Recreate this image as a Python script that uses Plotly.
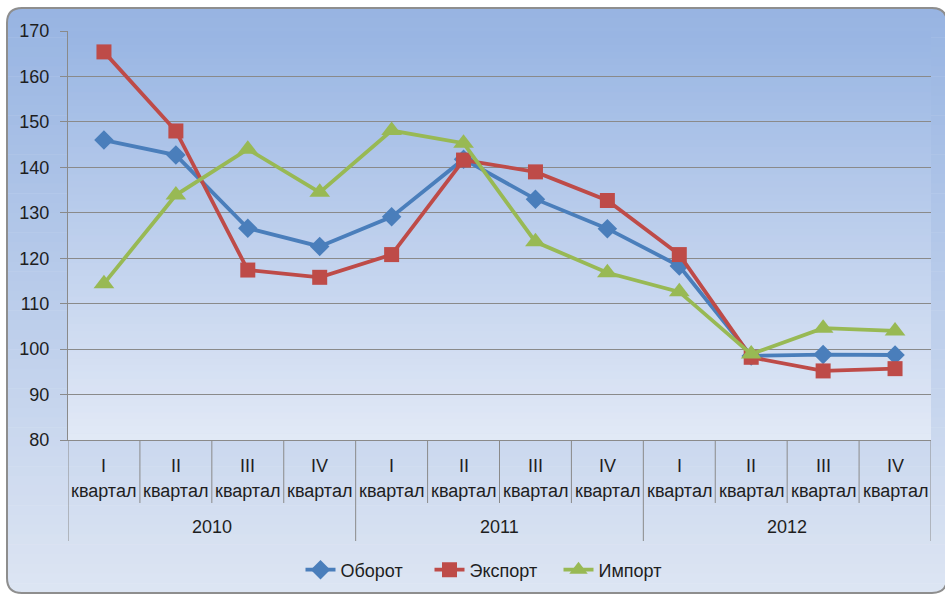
import plotly.graph_objects as go

# ---- data ----
years = ["2010", "2011", "2012"]
quarters = ["I", "II", "III", "IV"]
quarter_word = "квартал"
oborot = [146.0, 142.7, 126.6, 122.6, 129.1, 141.8, 133.0, 126.5, 118.3, 98.5, 98.8, 98.7]
eksport = [165.4, 148.0, 117.4, 115.8, 120.8, 141.6, 139.0, 132.7, 120.8, 98.2, 95.2, 95.7]
import_ = [114.4, 133.9, 144.0, 134.5, 148.1, 145.3, 123.6, 116.8, 112.6, 98.9, 104.6, 104.0]
y_ticks = [80, 90, 100, 110, 120, 130, 140, 150, 160, 170]

n = len(years) * len(quarters)
xs = list(range(n))

# ---- geometry helpers (pixel -> paper) ----
W, H = 945, 594
L, R, T, B = 68, 931, 31, 440
PW, PH = R - L, B - T


def X(px):
    return (px - L) / PW


def Y(py):
    return (B - py) / PH


def lerp(c0, c1, f):
    return tuple(round(a + (b - a) * f) for a, b in zip(c0, c1))


shapes = []

# chart-area gradient
box_l, box_t, box_r, box_b = 7, 8, 947, 593
c_top, c_bot = (151, 180, 226), (221, 229, 243)
nb = 60
for i in range(nb):
    y0 = box_t + (box_b - box_t) * i / nb
    y1 = box_t + (box_b - box_t) * (i + 1) / nb + 0.6
    c = lerp(c_top, c_bot, (i + 0.5) / nb)
    shapes.append(dict(type="rect", xref="paper", yref="paper", layer="below",
                       x0=X(box_l), x1=X(box_r), y0=Y(y0), y1=Y(min(y1, box_b)),
                       line=dict(width=0), fillcolor="rgb(%d,%d,%d)" % c))

# plot-area gradient
p_top, p_bot = (152, 181, 227), (226, 233, 246)
for i in range(nb):
    y0 = T + PH * i / nb
    y1 = T + PH * (i + 1) / nb + 0.6
    c = lerp(p_top, p_bot, (i + 0.5) / nb)
    shapes.append(dict(type="rect", xref="paper", yref="paper", layer="below",
                       x0=0, x1=1, y0=Y(y0), y1=Y(min(y1, B)),
                       line=dict(width=0), fillcolor="rgb(%d,%d,%d)" % c))

# rounded corners (white fills) + border
rr = 15
corners = [
    (box_l, box_t, box_l + rr, box_t, box_l, box_t + rr),
    (box_l, box_b, box_l + rr, box_b, box_l, box_b - rr),
    (box_r, box_t, box_r - rr, box_t, box_r, box_t + rr),
    (box_r, box_b, box_r - rr, box_b, box_r, box_b - rr),
]
for cx, cy, ax, ay, bx, by in corners:
    path = "M %f,%f L %f,%f Q %f,%f %f,%f Z" % (X(cx), Y(cy), X(ax), Y(ay), X(cx), Y(cy), X(bx), Y(by))
    shapes.append(dict(type="path", xref="paper", yref="paper", layer="below", path=path,
                       fillcolor="white", line=dict(width=0)))

border = ("M %f,%f L %f,%f Q %f,%f %f,%f L %f,%f Q %f,%f %f,%f L %f,%f Q %f,%f %f,%f L %f,%f Q %f,%f %f,%f Z" % (
    X(box_l + rr), Y(box_t), X(box_r - rr), Y(box_t), X(box_r), Y(box_t), X(box_r), Y(box_t + rr),
    X(box_r), Y(box_b - rr), X(box_r), Y(box_b), X(box_r - rr), Y(box_b),
    X(box_l + rr), Y(box_b), X(box_l), Y(box_b), X(box_l), Y(box_b - rr),
    X(box_l), Y(box_t + rr), X(box_l), Y(box_t), X(box_l + rr), Y(box_t)))
shapes.append(dict(type="path", xref="paper", yref="paper", layer="below", path=border,
                   line=dict(color="#8E8E8E", width=2)))

# category dividers
grid_col = "#8A8A8A"
for k in range(n + 1):
    xv = k - 0.5
    is_year = (k % len(quarters) == 0)
    bottom = 541 if is_year else 503
    shapes.append(dict(type="line", xref="x", yref="paper", x0=xv, x1=xv, y0=0, y1=Y(bottom),
                       line=dict(color=grid_col, width=1)))

font_family = "Liberation Sans, Arial, sans-serif"
txt_col = "#1E1E1E"
fs = 18

annotations = []
for k in range(n):
    annotations.append(dict(x=k, y=Y(466), xref="x", yref="paper", text=quarters[k % len(quarters)],
                            showarrow=False, font=dict(size=fs, color=txt_col, family=font_family),
                            xanchor="center", yanchor="middle"))
    annotations.append(dict(x=k, y=Y(491), xref="x", yref="paper", text=quarter_word,
                            showarrow=False, font=dict(size=fs, color=txt_col, family=font_family),
                            xanchor="center", yanchor="middle"))
for j, yr in enumerate(years):
    annotations.append(dict(x=j * len(quarters) + (len(quarters) - 1) / 2, y=Y(527), xref="x", yref="paper",
                            text=yr, showarrow=False,
                            font=dict(size=fs, color=txt_col, family=font_family),
                            xanchor="center", yanchor="middle"))

fig = go.Figure()
fig.add_trace(go.Scatter(x=xs, y=oborot, name="Оборот", mode="lines+markers",
                         line=dict(color="#4A7EBB", width=3.8),
                         marker=dict(symbol="diamond", size=15, color="#4A7EBB")))
fig.add_trace(go.Scatter(x=xs, y=eksport, name="Экспорт", mode="lines+markers",
                         line=dict(color="#BE4B48", width=3.8),
                         marker=dict(symbol="square", size=15, color="#BE4B48")))
fig.add_trace(go.Scatter(x=xs, y=import_, name="Импорт", mode="lines+markers",
                         line=dict(color="#98B954", width=3.8),
                         marker=dict(symbol="triangle-up", size=18, color="#98B954")))

fig.update_layout(
    width=W, height=H,
    margin=dict(l=L, r=W - R, t=T, b=H - B, autoexpand=False),
    paper_bgcolor="white",
    plot_bgcolor="rgba(0,0,0,0)",
    font=dict(family=font_family, size=fs, color=txt_col),
    shapes=shapes,
    annotations=annotations,
    showlegend=True,
    legend=dict(orientation="h", xref="container", yref="container",
                x=494 / W, xanchor="center", y=1 - 570 / H, yanchor="middle",
                bgcolor="rgba(0,0,0,0)", font=dict(size=fs, color=txt_col, family=font_family),
                itemwidth=30, entrywidth=84, entrywidthmode="pixels", tracegroupgap=0),
    xaxis=dict(range=[-0.5, n - 0.5], showgrid=False, zeroline=False, showticklabels=False,
               showline=True, linecolor=grid_col, linewidth=1, ticks="", fixedrange=True),
    yaxis=dict(range=[80, 170], tickvals=y_ticks, showgrid=True, gridcolor=grid_col, gridwidth=1,
               zeroline=False, showline=True, linecolor=grid_col, linewidth=1,
               ticks="outside", ticklen=7, tickcolor=grid_col, automargin=False, fixedrange=True,
               ticklabelstandoff=7,
               tickfont=dict(size=fs, color=txt_col, family=font_family)),
)

fig.write_html("out.html", config={"displayModeBar": False},
               post_script="document.body.style.margin='0';document.body.style.padding='0';"
                           "document.body.style.overflow='hidden';")
